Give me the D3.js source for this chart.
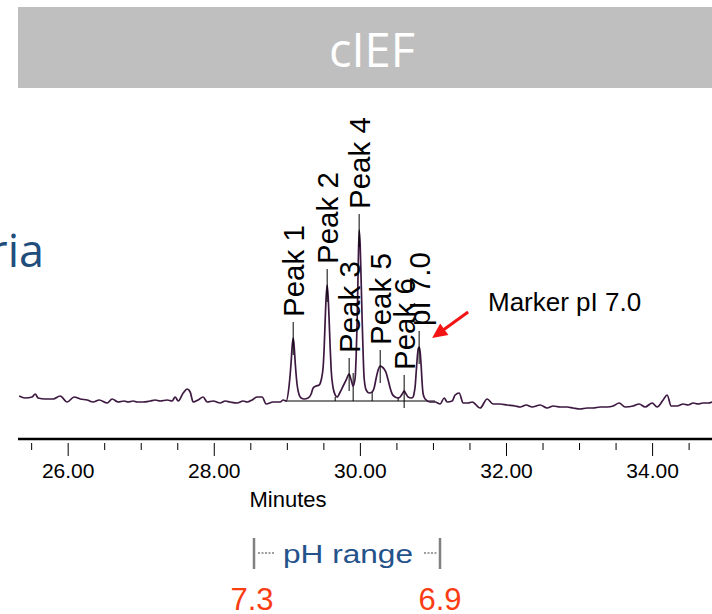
<!DOCTYPE html>
<meta charset="utf-8">
<script src="https://d3js.org/d3.v7.min.js"></script>
<style>
    body { margin: 0; background: #fff; }
    svg text { font-family: "Liberation Sans", Arial, sans-serif; }
</style>
<div id="chart"></div>
<script>
// electropherogram trace, minutes vs. signal (mAU above integration baseline)
const traceTime = [
    25.336, 25.418, 25.514, 25.555, 25.596, 25.692, 25.802, 25.897, 25.993, 26.089,
    26.171, 26.267, 26.349, 26.431, 26.541, 26.609, 26.691, 26.773, 26.828, 26.897,
    26.951, 27.033, 27.129, 27.198, 27.266, 27.362, 27.430, 27.471, 27.513, 27.581,
    27.636, 27.677, 27.718, 27.786, 27.855, 27.909, 27.992, 28.087, 28.156, 28.224,
    28.320, 28.402, 28.457, 28.525, 28.594, 28.662, 28.717, 28.813, 28.909, 28.950,
    28.991,
    29.032, 29.059, 29.073, 29.087, 29.100, 29.114, 29.141, 29.169, 29.196, 29.237,
    29.292, 29.333, 29.360, 29.401, 29.443, 29.470, 29.497, 29.511, 29.525, 29.538,
    29.552, 29.566, 29.579, 29.593, 29.607, 29.634, 29.662, 29.689, 29.730, 29.771,
    29.812, 29.853, 29.881, 29.908, 29.935, 29.949, 29.963, 29.976, 29.990, 30.004,
    30.017, 30.031, 30.045, 30.058, 30.086, 30.127, 30.168, 30.195, 30.223, 30.250,
    30.278, 30.305, 30.332, 30.360, 30.387, 30.414, 30.442, 30.483, 30.524, 30.551,
    30.579, 30.606, 30.633, 30.661, 30.702, 30.729, 30.743, 30.757, 30.770, 30.784,
    30.798, 30.811, 30.825, 30.839, 30.852, 30.866, 30.893, 30.962, 31.030,
    31.099, 31.154, 31.195, 31.263, 31.304, 31.359, 31.414, 31.482, 31.537, 31.646,
    31.742, 31.824, 31.920, 32.016, 32.125, 32.194, 32.276, 32.358, 32.468, 32.563,
    32.646, 32.741, 32.837, 32.919, 33.015, 33.111, 33.193, 33.289, 33.385, 33.467,
    33.549, 33.631, 33.741, 33.823, 33.905, 34.001, 34.069, 34.151, 34.206, 34.261,
    34.343, 34.425, 34.493, 34.562, 34.630, 34.698, 34.767, 34.822
];
const traceSignal = [
    5, 3, 4, 7, 3, 2, 2, 5, -1, 4,
    2, 1, -1, 1, -2, 2, -1, 0, -1, 0,
    -1, -1, 0, 1, 0, 1, 0, 4, 0, 8,
    12, 9, -1, 1, 4, -1, 0, -2, 0, -1,
    -2, 0, -1, 1, 4, 4, -3, -1, -1, 1,
    0,
    16, 39, 55, 63, 55, 39, 16, 6, 3, 2,
    3, 7, 13, 15, 16, 21, 34, 53, 81, 104,
    116, 104, 81, 54, 31, 13, 6, 4, 9, 15,
    21, 27, 21, 15, 23, 45, 81, 131, 171, 156,
    121, 81, 46, 23, 11, 8, 9, 13, 23, 31,
    35, 34, 32, 28, 21, 13, 7, 4, 3, 4,
    7, 10, 7, 4, 3, 4, 8, 15, 28, 42,
    52, 54, 49, 35, 18, 7, 2, -1, -1,
    -3, 3, -1, 0, 6, 8, -2, -2, -1, -7,
    2, -3, -3, -4, -5, -6, -4, -6, -4, -7,
    -5, -6, -6, -7, -8, -7, -7, -6, -6, -5,
    -2, -6, -5, -3, -6, -2, -6, 1, 6, -5,
    -5, -3, -4, -2, -3, -2, -2, -1
];

// labelled peaks
const peakNames = ["Peak 1", "Peak 2", "Peak 3", "Peak 4", "Peak 5", "Peak 6", "pI 7.0"];
const peakTimes = [29.087, 29.552, 29.853, 29.990, 30.278, 30.606, 30.811];
const peakHeights = [63, 116, 27, 171, 35, 10, 54];

// integration baseline and drop lines
const baselineStart = 28.98, baselineEnd = 31.03;
const dropTimes = [29.662, 29.908, 30.168, 30.524];
const dropHeights = [4, 28, 9, 4];

// axis ticks
const majorTicks = [26, 28, 30, 32, 34];
const minorTicks = [25.5, 26.5, 27, 27.5, 28.5, 29, 29.5, 30.5, 31, 31.5, 32.5, 33, 33.5, 34.5];

const pHLow = "7.3", pHHigh = "6.9";

const W = 712, H = 614;
const svg = d3.select("#chart").append("svg")
    .attr("width", W).attr("height", H);

svg.append("rect").attr("width", W).attr("height", H).attr("fill", "#fff");

// header bar
svg.append("rect")
    .attr("x", 18).attr("y", 7).attr("width", W - 18).attr("height", 81)
    .attr("fill", "#bfbfbf");
svg.append("text")
    .attr("x", 372).attr("y", 67)
    .attr("text-anchor", "middle")
    .style("font-family", "'Open Sans', sans-serif")
    .attr("font-size", 47)
    .attr("fill", "#fff")
    .text("cIEF");

// cut off text from neighbouring panel
svg.append("text")
    .attr("x", 44).attr("y", 267)
    .attr("text-anchor", "end")
    .style("font-family", "'Open Sans', sans-serif")
    .attr("font-size", 45)
    .attr("fill", "#1f4e7c")
    .text("ria");

const x = d3.scaleLinear().domain([25.32, 34.82]).range([18, 712]);
const y = d3.scaleLinear().domain([0, 200]).range([401, 201]);

// axis
svg.append("line")
    .attr("x1", 18).attr("x2", W).attr("y1", 439).attr("y2", 439)
    .attr("stroke", "#000").attr("stroke-width", 2.6);

svg.append("g")
    .attr("transform", "translate(0,443)")
    .call(d3.axisBottom(x).tickValues(minorTicks).tickSize(7).tickFormat(""))
    .call(g => g.select(".domain").remove());

svg.append("g")
    .attr("transform", "translate(0,443)")
    .call(d3.axisBottom(x).tickValues(majorTicks).tickSize(13).tickFormat(d3.format(".2f")))
    .attr("font-family", "'Liberation Sans', Arial, sans-serif")
    .attr("font-size", 21)
    .call(g => g.select(".domain").remove())
    .call(g => g.selectAll("text").attr("y", 35).attr("dy", null).attr("fill", "#000"));

svg.append("text")
    .attr("x", 288).attr("y", 507)
    .attr("text-anchor", "middle")
    .attr("font-size", 22)
    .text("Minutes");

// integration baseline + drop lines
svg.append("line")
    .attr("x1", x(baselineStart)).attr("x2", x(baselineEnd))
    .attr("y1", y(0)).attr("y2", y(0))
    .attr("stroke", "#000").attr("stroke-width", 1);

svg.selectAll(".drop")
    .data(dropTimes)
    .enter().append("line")
    .attr("class", "drop")
    .attr("x1", d => x(d)).attr("x2", d => x(d))
    .attr("y1", y(0)).attr("y2", (d, i) => y(dropHeights[i]))
    .attr("stroke", "#000").attr("stroke-width", 1);

// trace
const line = d3.line()
    .x(i => x(traceTime[i]))
    .y(i => y(traceSignal[i]))
    .curve(d3.curveMonotoneX);

svg.append("path")
    .attr("d", line(d3.range(traceTime.length)))
    .attr("fill", "none")
    .attr("stroke", "#3d1840")
    .attr("stroke-width", 1.7)
    .attr("stroke-linejoin", "round");

// peak labels
peakNames.forEach((name, i) => {
    const px = x(peakTimes[i]), py = y(peakHeights[i]);
    svg.append("line")
        .attr("x1", px).attr("x2", px)
        .attr("y1", py - 16).attr("y2", py + 17)
        .attr("stroke", "#000").attr("stroke-width", 1);
    svg.append("text")
        .attr("transform", `translate(${px},${py - 21}) rotate(-90)`)
        .attr("dy", "0.36em")
        .attr("font-size", 29.5)
        .attr("fill", "#000")
        .text(name);
});

// marker annotation
const mx = x(peakTimes[6]) + 13, my = y(peakHeights[6]) - 9;
const tail = [mx + 36, my - 26];
const ang = Math.atan2(my - tail[1], mx - tail[0]);
const ah = 15, aw = 7;
svg.append("line")
    .attr("x1", tail[0]).attr("y1", tail[1])
    .attr("x2", mx - Math.cos(ang) * ah * 0.8).attr("y2", my - Math.sin(ang) * ah * 0.8)
    .attr("stroke", "#f21414").attr("stroke-width", 3);
svg.append("path")
    .attr("d", d3.line()([
        [mx, my],
        [mx - Math.cos(ang) * ah + Math.sin(ang) * aw, my - Math.sin(ang) * ah - Math.cos(ang) * aw],
        [mx - Math.cos(ang) * ah - Math.sin(ang) * aw, my - Math.sin(ang) * ah + Math.cos(ang) * aw]
    ]) + "Z")
    .attr("fill", "#f21414");

svg.append("text")
    .attr("x", 488).attr("y", 311)
    .attr("font-size", 26)
    .attr("fill", "#000")
    .text("Marker pI 7.0");

// pH range bracket
const grey = "#808080";
[254, 440].forEach(bx => {
    svg.append("line")
        .attr("x1", bx).attr("x2", bx).attr("y1", 538).attr("y2", 569)
        .attr("stroke", grey).attr("stroke-width", 2.5);
});
[[258, 274], [424, 437]].forEach(s => {
    svg.append("line")
        .attr("x1", s[0]).attr("x2", s[1]).attr("y1", 553).attr("y2", 553)
        .attr("stroke", grey).attr("stroke-width", 1.5)
        .attr("stroke-dasharray", "2,1.5");
});
svg.append("text")
    .attr("x", 283).attr("y", 563)
    .attr("font-size", 26)
    .attr("textLength", 130).attr("lengthAdjust", "spacingAndGlyphs")
    .attr("fill", "#24528a")
    .text("pH range");

svg.append("text")
    .attr("x", 252).attr("y", 610)
    .attr("text-anchor", "middle")
    .attr("font-size", 31)
    .attr("fill", "#fa3c12")
    .text(pHLow);
svg.append("text")
    .attr("x", 440).attr("y", 610)
    .attr("text-anchor", "middle")
    .attr("font-size", 31)
    .attr("fill", "#fa3c12")
    .text(pHHigh);
</script>
